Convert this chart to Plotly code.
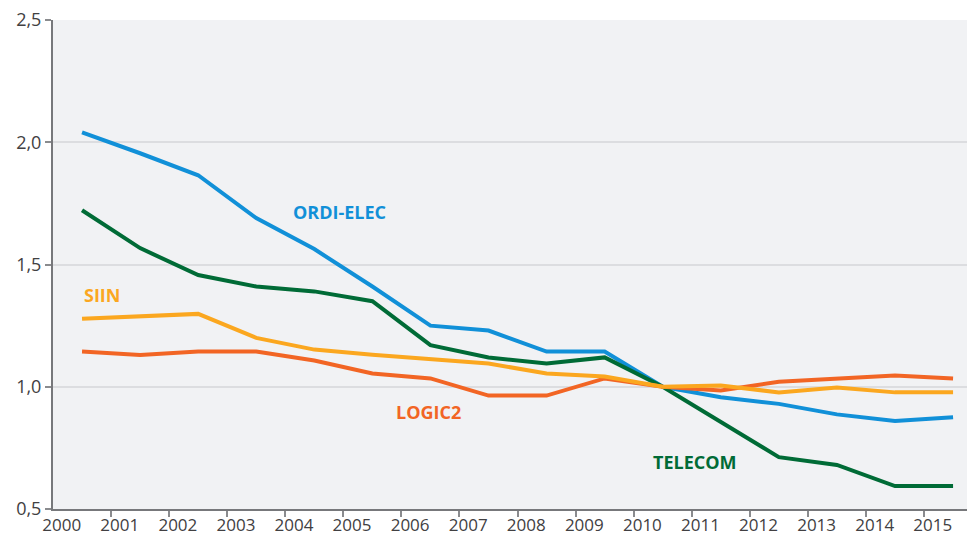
import plotly.graph_objects as go

years = list(range(2000, 2016))
year_labels = [str(y) for y in years]

ordi_elec = [2.04, 1.955, 1.865, 1.69, 1.563, 1.41, 1.25, 1.23, 1.144, 1.144, 1.0, 0.957, 0.93, 0.887, 0.86, 0.875]
telecom   = [1.722, 1.567, 1.457, 1.41, 1.39, 1.35, 1.17, 1.12, 1.095, 1.12, 1.0, 0.856, 0.712, 0.68, 0.594, 0.594]
siin      = [1.278, 1.286, 1.298, 1.20, 1.152, 1.131, 1.115, 1.095, 1.054, 1.042, 1.0, 1.005, 0.977, 0.997, 0.977, 0.977]
logic2    = [1.144, 1.13, 1.144, 1.144, 1.107, 1.054, 1.034, 0.964, 0.964, 1.034, 1.0, 0.985, 1.02, 1.034, 1.046, 1.034]

series = [
    ("ORDI-ELEC", ordi_elec, "#1190d8"),
    ("TELECOM", telecom, "#006b36"),
    ("LOGIC2", logic2, "#f26524"),
    ("SIIN", siin, "#fba71f"),
]

# category index positions (point in middle of each year's slot)
idx = list(range(len(years)))
xpos = [i + 0.5 for i in idx]

fig = go.Figure()
for name, vals, col in series:
    fig.add_trace(go.Scatter(x=xpos, y=vals, mode="lines", name=name,
                             line=dict(color=col, width=4), showlegend=False,
                             hoverinfo="skip"))

labels = [
    ("ORDI-ELEC", 4.94, 1.714, "#1190d8"),
    ("SIIN", 0.84, 1.376, "#fba71f"),
    ("LOGIC2", 6.46, 0.895, "#f26524"),
    ("TELECOM", 11.06, 0.691, "#006b36"),
]
for txt, x, y, col in labels:
    fig.add_annotation(x=x, y=y, text="<b>%s</b>" % txt, showarrow=False,
                       font=dict(family="Open Sans", size=18, color=col),
                       xanchor="center", yanchor="middle")

fig.update_layout(
    width=967, height=538,
    margin=dict(l=53, r=0, t=20, b=29),
    paper_bgcolor="white",
    plot_bgcolor="#f1f2f4",
    separators=",.",
    font=dict(family="Open Sans", size=17, color="#414042"),
)
fig.update_xaxes(
    range=[0, 15.74],
    automargin=False,
    tickmode="array",
    tickvals=[i + 0.15 for i in idx],
    ticktext=year_labels,
    ticks="",
    showgrid=False,
    zeroline=False,
    showline=True, linecolor="#77787b", linewidth=2,
    tickfont=dict(size=17, color="#414042"),
    minor=dict(tickmode="array", tickvals=idx[1:], ticks="outside",
               ticklen=6, tickwidth=1.5, tickcolor="#8a8b8e", showgrid=False),
)
fig.update_yaxes(
    range=[0.5, 2.5],
    automargin=False,
    tickmode="array",
    tickvals=[0.5, 1.0, 1.5, 2.0, 2.5],
    tickformat=".1f",
    ticks="outside", ticklen=6, tickwidth=1.5, tickcolor="#8a8b8e",
    showgrid=True, gridcolor="#dcdde0", gridwidth=1.5,
    zeroline=False,
    showline=True, linecolor="#77787b", linewidth=2,
    tickfont=dict(size=18, color="#414042"),
)

fig.write_html("out.html", config={"displayModeBar": False})

# remove default page margin so the figure sits at the window's top-left corner
with open("out.html", "r", encoding="utf-8") as f:
    html = f.read()
html = html.replace("<head>", "<head><style>html,body{margin:0;padding:0;overflow:hidden;}</style>", 1)
with open("out.html", "w", encoding="utf-8") as f:
    f.write(html)
